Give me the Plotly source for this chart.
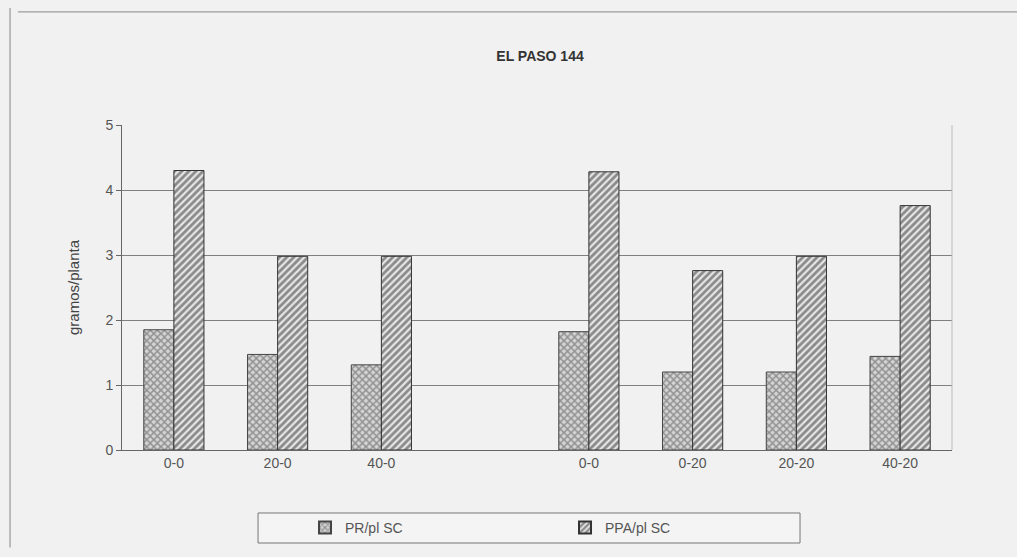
import plotly.graph_objects as go

categories = ["0-0", "20-0", "40-0", "", "0-0", "0-20", "20-20", "40-20"]
pr_values = [1.85, 1.47, 1.31, None, 1.82, 1.20, 1.20, 1.44]
ppa_values = [4.30, 2.98, 2.98, None, 4.28, 2.76, 2.98, 3.76]
y_ticks = [0, 1, 2, 3, 4, 5]

xpos = list(range(len(categories)))

fig = go.Figure()
fig.add_trace(go.Bar(
    x=xpos, y=pr_values, name="PR/pl SC",
    marker=dict(color="#cfcfcf", line=dict(color="#444444", width=1),
                pattern=dict(shape="x", fgcolor="#505050", bgcolor="#d4d4d4", size=5, solidity=0.5)),
))
fig.add_trace(go.Bar(
    x=xpos, y=ppa_values, name="PPA/pl SC",
    marker=dict(color="#e8e8e8", line=dict(color="#333333", width=1),
                pattern=dict(shape="/", fgcolor="#2e2e2e", bgcolor="#e6e6e6", size=5, solidity=0.55)),
))

fig.update_layout(
    width=1017, height=557,
    margin=dict(l=122, r=65, t=125, b=107),
    paper_bgcolor="#f1f1f1", plot_bgcolor="#f1f1f1",
    barmode="group", bargap=0.42, bargroupgap=0,
    font=dict(family="Liberation Sans, Arial", size=14, color="#444444"),
    title=dict(text="<b>EL PASO 144</b>", x=0.531, xanchor="center", y=0.9, yanchor="middle",
               font=dict(size=14, color="#333333")),
    showlegend=True,
    legend=dict(orientation="h", x=0.2205, xanchor="left", y=-0.24, yanchor="middle",
                bgcolor="rgba(0,0,0,0)", borderwidth=0,
                entrywidth=215, font=dict(size=14, color="#555555"),
                itemsizing="constant"),
    xaxis=dict(tickmode="array", tickvals=xpos, ticktext=categories,
               range=[-0.5, len(categories) - 0.5], showgrid=False,
               showline=True, linecolor="#666666", ticks="", ticklen=0,
               tickfont=dict(size=14, color="#555555")),
    yaxis=dict(range=[0, 5], tickvals=y_ticks, showgrid=True, gridcolor="#808080", gridwidth=1,
               showline=True, linecolor="#666666", ticks="outside", ticklen=5, tickcolor="#666666",
               zeroline=False, tickfont=dict(size=14, color="#555555"),
               title=dict(text="gramos/planta", font=dict(size=15, color="#444444"), standoff=22)),
)
# legend frame
fig.add_shape(type="rect", xref="paper", yref="paper", x0=0.1639, x1=0.8169, y0=-0.2862, y1=-0.1938,
              line=dict(color="#777777", width=1), fillcolor="#f4f4f4", layer="below")
# outer chart frame (left and top edges visible in scan)
fig.add_shape(type="line", xref="paper", yref="paper", x0=-0.1254, x1=1.1, y0=1.348, y1=1.348,
              line=dict(color="#888888", width=1))
fig.add_shape(type="line", xref="paper", yref="paper", x0=-0.1349, x1=-0.1349, y0=-0.3, y1=1.36,
              line=dict(color="#888888", width=1))
# faint right border of plot area
fig.add_shape(type="line", xref="paper", yref="paper", x0=1, x1=1, y0=0, y1=1,
              line=dict(color="#bbbbbb", width=1))

fig.write_html("out.html")
